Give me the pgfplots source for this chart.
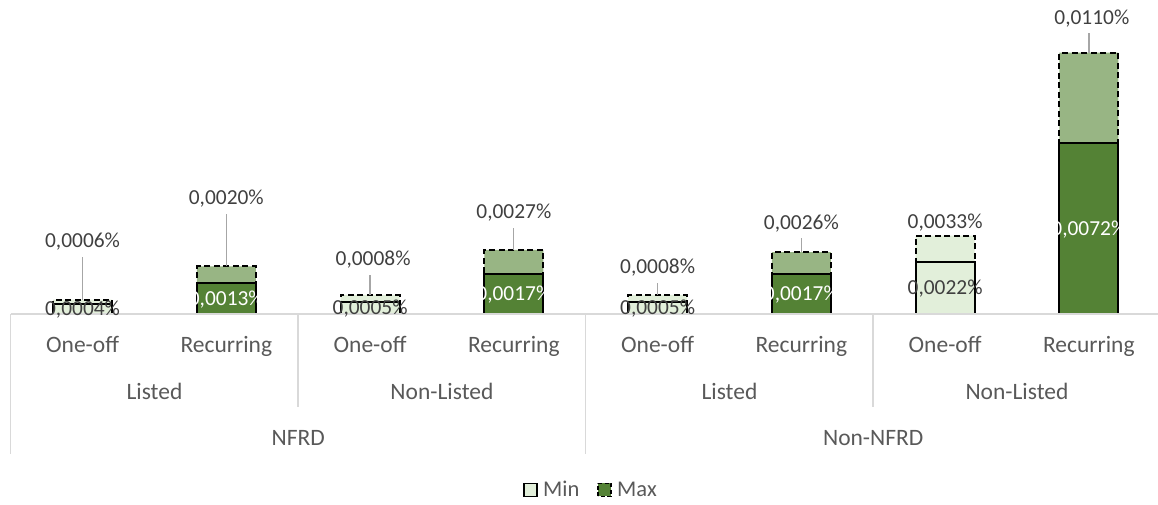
\documentclass[border=0pt]{standalone}
\usepackage{fontspec}
\setmainfont{Carlito}
\usepackage{pgfplots}
\pgfplotsset{compat=1.18}
\usepackage{pgfplotstable}
\usetikzlibrary{calc}

\definecolor{darkgreen}{HTML}{548235}
\definecolor{midgreen}{HTML}{98B584}
\definecolor{lightgreen}{HTML}{E2EFDA}
\definecolor{axisgray}{HTML}{D9D9D9}
\definecolor{labelgray}{HTML}{595959}
\definecolor{valgray}{HTML}{404040}
\definecolor{leadergray}{HTML}{A6A6A6}

% share of the base, min and max per category
\pgfplotstableread{
x min max
0 0.0004 0.0006
2 0.0005 0.0008
4 0.0005 0.0008
6 0.0022 0.0033
}\oneoff
\pgfplotstableread{
x min max
1 0.0013 0.0020
3 0.0017 0.0027
5 0.0017 0.0026
7 0.0072 0.0110
}\recurring

\tikzset{
  catlabel/.style={font=\fontsize{23.5}{28}\selectfont, text=labelgray, inner sep=0pt,
    text height=14.8pt, text depth=0pt},
  vallabel/.style={font=\fontsize{21.4}{25}\selectfont, text=valgray, inner sep=0pt,
    text height=13.5pt, text depth=0pt},
  divider/.style={draw=axisgray, line width=1.5pt},
}

% max label above the bar with a leader line: x, value, text, label offset, line top offset, label xshift
\newcommand{\maxlabel}[6]{%
  \draw[leadergray, line width=1.3pt] (axis cs:#1,#2) -- ([yshift=#5pt]axis cs:#1,#2);
  \node[vallabel, xshift=#6pt, yshift=#4pt] at (axis cs:#1,#2) {#3};
}
\newcommand{\maxlabelplain}[4]{%
  \node[vallabel, yshift=#4pt] at (axis cs:#1,#2) {#3};
}
% min label centred in the solid bar: x, value, text, colour
\newcommand{\minlabel}[4]{%
  \node[vallabel, text=#4] at ($(axis cs:#1,0)!0.5!(axis cs:#1,#2)$) {#3};
}
% vertical divider below the category axis: x, depth
\newcommand{\divline}[2]{%
  \draw[divider] (axis cs:#1,0) -- ([yshift=-#2pt]axis cs:#1,0);
}

\begin{document}
\begin{tikzpicture}
\path[use as bounding box] (0,0) rectangle (1158pt,505pt);
\begin{axis}[
  at={(10.7pt,191pt)}, anchor=south west,
  scale only axis, width=1147.3pt, height=314pt,
  xmin=-0.5, xmax=7.481, ymin=0, ymax=0.01322,
  axis line style={draw=none}, tick style={draw=none},
  xtick=\empty, ytick=\empty,
  clip=false,
  legend style={at={(0.505,-0.5605)}, anchor=center, draw=none, fill=none,
    legend columns=2, font=\fontsize{22.5}{26}\selectfont, text=labelgray,
    inner sep=0pt, row sep=0pt,
    nodes={inner sep=0pt},
    /tikz/every odd column/.append style={column sep=5pt},
    /tikz/every even column/.append style={column sep=18pt}},
  legend image code/.code={\draw[#1] (0pt,-6.5pt) rectangle (13pt,6.5pt);},
]
% max bars (dashed) behind
\addplot[ybar, bar width=0.41, bar shift=0pt, fill=lightgreen, draw=black,
  line width=2pt, dash pattern=on 6pt off 3.5pt, forget plot]
  table[x=x, y=max]{\oneoff};
\addplot[ybar, bar width=0.41, bar shift=0pt, fill=midgreen, draw=black,
  line width=2pt, dash pattern=on 6pt off 3.5pt, forget plot]
  table[x=x, y=max]{\recurring};
% min bars (solid) in front
\addplot[ybar, bar width=0.41, bar shift=0pt, fill=lightgreen, draw=black,
  line width=2pt, forget plot]
  table[x=x, y=min]{\oneoff};
\addplot[ybar, bar width=0.41, bar shift=0pt, fill=darkgreen, draw=black,
  line width=2pt, forget plot]
  table[x=x, y=min]{\recurring};

\addlegendimage{fill=lightgreen, draw=black, line width=1.8pt}
\addlegendentry{Min}
\addlegendimage{fill=darkgreen, draw=black, line width=1.8pt, dash pattern=on 4pt off 2.5pt}
\addlegendentry{Max}

% baseline and category dividers
\draw[divider] (axis cs:-0.5,0) -- (axis cs:7.481,0);
\divline{-0.5}{140}
\divline{1.5}{93}
\divline{3.5}{140}
\divline{5.5}{93}

% category labels, three levels
\node[catlabel] at ([yshift=-31pt]axis cs:0,0) {One-off};
\node[catlabel] at ([yshift=-31pt]axis cs:1,0) {Recurring};
\node[catlabel] at ([yshift=-31pt]axis cs:2,0) {One-off};
\node[catlabel] at ([yshift=-31pt]axis cs:3,0) {Recurring};
\node[catlabel] at ([yshift=-31pt]axis cs:4,0) {One-off};
\node[catlabel] at ([yshift=-31pt]axis cs:5,0) {Recurring};
\node[catlabel] at ([yshift=-31pt]axis cs:6,0) {One-off};
\node[catlabel] at ([yshift=-31pt]axis cs:7,0) {Recurring};
\node[catlabel] at ([yshift=-77.7pt]axis cs:0.5,0) {Listed};
\node[catlabel] at ([yshift=-77.7pt]axis cs:2.5,0) {Non-Listed};
\node[catlabel] at ([yshift=-77.7pt]axis cs:4.5,0) {Listed};
\node[catlabel] at ([yshift=-77.7pt]axis cs:6.5,0) {Non-Listed};
\node[catlabel] at ([yshift=-124pt]axis cs:1.5,0) {NFRD};
\node[catlabel] at ([yshift=-124pt]axis cs:5.5,0) {Non-NFRD};

% value labels
\maxlabel{0}{0.0006}{0,0006\%}{59}{43}{0}
\maxlabel{1}{0.0020}{0,0020\%}{68.5}{52.5}{0}
\maxlabel{2}{0.0008}{0,0008\%}{36}{20}{3}
\maxlabel{3}{0.0027}{0,0027\%}{38}{22}{0}
\maxlabel{4}{0.0008}{0,0008\%}{28}{12}{0}
\maxlabel{5}{0.0026}{0,0026\%}{29}{14}{0}
\maxlabelplain{6}{0.0033}{0,0033\%}{14}
\maxlabel{7}{0.0110}{0,0110\%}{34.75}{19.75}{3}

\minlabel{0}{0.0004}{0,0004\%}{valgray}
\minlabel{1}{0.0013}{0,0013\%}{white}
\minlabel{2}{0.0005}{0,0005\%}{valgray}
\minlabel{3}{0.0017}{0,0017\%}{white}
\minlabel{4}{0.0005}{0,0005\%}{valgray}
\minlabel{5}{0.0017}{0,0017\%}{white}
\minlabel{6}{0.0022}{0,0022\%}{valgray}
\minlabel{7}{0.0072}{0,0072\%}{white}
\end{axis}
\end{tikzpicture}
\end{document}
